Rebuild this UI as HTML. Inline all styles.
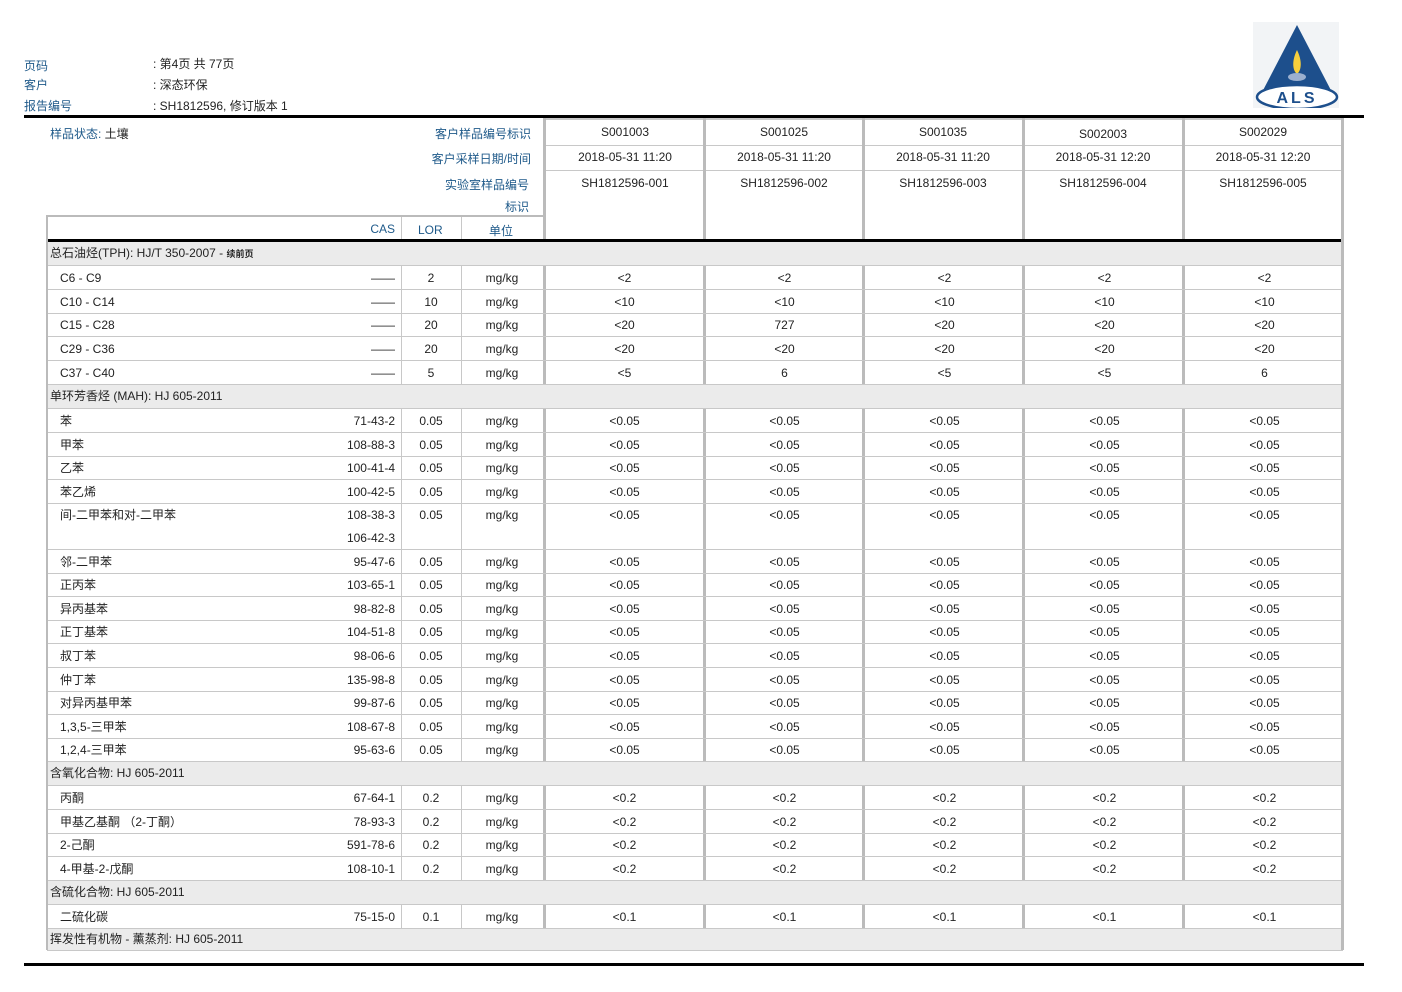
<!DOCTYPE html>
<html><head><meta charset="utf-8"><style>
body{margin:0;width:1402px;height:992px;background:#fff;position:relative;overflow:hidden;font-family:"Liberation Sans","Noto Sans CJK SC",sans-serif;color:#222;font-size:12px}
.a{position:absolute;white-space:nowrap}
.b{color:#1f5a8a}
.r{position:absolute;left:47px;width:1296px;display:flex;border-bottom:1px solid #c8c8c8;line-height:24px;z-index:2}
.r>div{flex:none}
.n{width:354px;position:relative;padding-left:13px;box-sizing:border-box}
.n span{position:absolute;right:6px;top:0}
.l{width:60px;text-align:center}
.u{width:82px;text-align:center}
.s{width:160px;text-align:center;padding-left:3px;box-sizing:border-box}
.h{position:absolute;left:47px;width:1296px;background:#ebebeb;border-bottom:1px solid #c8c8c8;line-height:23px;padding-left:3px;box-sizing:border-box;z-index:3}
.v{position:absolute;background:#c8c8c8;z-index:1}
.V{position:absolute;background:#bbb;width:3px;z-index:1}
</style></head><body>
<div class="a b" style="left:24px;top:57px">页码</div>
<div class="a b" style="left:24px;top:76px">客户</div>
<div class="a b" style="left:24px;top:97px">报告编号</div>
<div class="a" style="left:153px;top:55px">: 第4页 共 77页</div>
<div class="a" style="left:153px;top:76px">: 深态环保</div>
<div class="a" style="left:153px;top:97px">: SH1812596, 修订版本 1</div>
<svg class="a" style="left:1253px;top:22px" width="86" height="86" viewBox="0 0 86 86">
<rect width="86" height="86" fill="#f2f4f6"/>
<polygon points="44,3 6,76 82,76" fill="#1d4f8c"/>
<path d="M44,28 C39,38 39,48 44,52 C49,48 49,38 44,28Z" fill="#f7cf3c"/>
<ellipse cx="44" cy="55" rx="9" ry="4" fill="#9bb0cf"/>
<ellipse cx="44" cy="75" rx="40" ry="12" fill="#fff" stroke="#1d4f8c" stroke-width="2.5"/>
<rect x="0" y="64" width="86" height="5" fill="#1d4f8c" opacity="0"/>
<text x="44" y="81" font-size="16" font-weight="bold" fill="#1d4f8c" text-anchor="middle" font-family="Liberation Sans" letter-spacing="3">ALS</text>
</svg>
<div class="a" style="left:24px;top:115px;width:1340px;height:3px;background:#000"></div>
<div class="a" style="left:24px;top:963px;width:1340px;height:3px;background:#000"></div>

<div class="a b" style="left:50px;top:125px">样品状态: <span style="color:#222">土壤</span></div>
<div class="a b" style="right:871px;top:125px">客户样品编号标识</div>
<div class="a b" style="right:871px;top:150px">客户采样日期/时间</div>
<div class="a b" style="right:873px;top:176px">实验室样品编号</div>
<div class="a b" style="right:873px;top:198px">标识</div>
<div class="a b" style="right:1007px;top:222px">CAS</div>
<div class="a b" style="left:418px;top:223px">LOR</div>
<div class="a b" style="left:489px;top:222px">单位</div>

<div class="a" style="left:544px;top:118px;width:799px;height:2px;background:#c8c8c8"></div>
<div class="a" style="left:544px;top:145px;width:799px;height:1px;background:#c8c8c8"></div>
<div class="a" style="left:544px;top:170px;width:799px;height:1px;background:#c8c8c8"></div>
<div class="a" style="left:47px;top:215px;width:497px;height:2px;background:#bbb"></div>
<div class="a" style="left:47px;top:239px;width:1296px;height:3px;background:#000;z-index:4"></div>

<div class="V" style="left:46px;top:215px;height:735px;width:2px;z-index:4"></div>
<div class="v" style="left:401px;top:217px;width:1px;height:733px"></div>
<div class="v" style="left:461px;top:217px;width:1px;height:733px"></div>
<div class="V" style="left:543px;top:118px;height:832px"></div>
<div class="V" style="left:703px;top:118px;height:832px"></div>
<div class="V" style="left:862px;top:118px;height:832px"></div>
<div class="V" style="left:1022px;top:118px;height:832px"></div>
<div class="V" style="left:1182px;top:118px;height:832px"></div>
<div class="V" style="left:1341px;top:118px;height:832px;z-index:4"></div>

<div class="a" style="left:547px;top:125px;width:156px;text-align:center">S001003</div>
<div class="a" style="left:706px;top:125px;width:156px;text-align:center">S001025</div>
<div class="a" style="left:865px;top:125px;width:156px;text-align:center">S001035</div>
<div class="a" style="left:1025px;top:127px;width:156px;text-align:center">S002003</div>
<div class="a" style="left:1185px;top:125px;width:156px;text-align:center">S002029</div>
<div class="a" style="left:547px;top:150px;width:156px;text-align:center">2018-05-31 11:20</div>
<div class="a" style="left:706px;top:150px;width:156px;text-align:center">2018-05-31 11:20</div>
<div class="a" style="left:865px;top:150px;width:156px;text-align:center">2018-05-31 11:20</div>
<div class="a" style="left:1025px;top:150px;width:156px;text-align:center">2018-05-31 12:20</div>
<div class="a" style="left:1185px;top:150px;width:156px;text-align:center">2018-05-31 12:20</div>
<div class="a" style="left:547px;top:176px;width:156px;text-align:center">SH1812596-001</div>
<div class="a" style="left:706px;top:176px;width:156px;text-align:center">SH1812596-002</div>
<div class="a" style="left:865px;top:176px;width:156px;text-align:center">SH1812596-003</div>
<div class="a" style="left:1025px;top:176px;width:156px;text-align:center">SH1812596-004</div>
<div class="a" style="left:1185px;top:176px;width:156px;text-align:center">SH1812596-005</div>

<div class="h" style="top:242px;height:24px">总石油烃(TPH): HJ/T 350-2007 - <span style="font-size:9px;font-weight:bold">续前页</span></div>
<div class="r" style="top:266px;height:23px"><div class="n">C6 - C9<span>——</span></div><div class="l">2</div><div class="u">mg/kg</div><div class="s">&lt;2</div><div class="s">&lt;2</div><div class="s">&lt;2</div><div class="s">&lt;2</div><div class="s">&lt;2</div></div>
<div class="r" style="top:290px;height:23px"><div class="n">C10 - C14<span>——</span></div><div class="l">10</div><div class="u">mg/kg</div><div class="s">&lt;10</div><div class="s">&lt;10</div><div class="s">&lt;10</div><div class="s">&lt;10</div><div class="s">&lt;10</div></div>
<div class="r" style="top:313px;height:23px"><div class="n">C15 - C28<span>——</span></div><div class="l">20</div><div class="u">mg/kg</div><div class="s">&lt;20</div><div class="s">727</div><div class="s">&lt;20</div><div class="s">&lt;20</div><div class="s">&lt;20</div></div>
<div class="r" style="top:337px;height:23px"><div class="n">C29 - C36<span>——</span></div><div class="l">20</div><div class="u">mg/kg</div><div class="s">&lt;20</div><div class="s">&lt;20</div><div class="s">&lt;20</div><div class="s">&lt;20</div><div class="s">&lt;20</div></div>
<div class="r" style="top:361px;height:23px"><div class="n">C37 - C40<span>——</span></div><div class="l">5</div><div class="u">mg/kg</div><div class="s">&lt;5</div><div class="s">6</div><div class="s">&lt;5</div><div class="s">&lt;5</div><div class="s">6</div></div>
<div class="h" style="top:385px;height:24px">单环芳香烃 (MAH): HJ 605-2011</div>
<div class="r" style="top:409px;height:23px"><div class="n">苯<span>71-43-2</span></div><div class="l">0.05</div><div class="u">mg/kg</div><div class="s">&lt;0.05</div><div class="s">&lt;0.05</div><div class="s">&lt;0.05</div><div class="s">&lt;0.05</div><div class="s">&lt;0.05</div></div>
<div class="r" style="top:433px;height:23px"><div class="n">甲苯<span>108-88-3</span></div><div class="l">0.05</div><div class="u">mg/kg</div><div class="s">&lt;0.05</div><div class="s">&lt;0.05</div><div class="s">&lt;0.05</div><div class="s">&lt;0.05</div><div class="s">&lt;0.05</div></div>
<div class="r" style="top:456px;height:23px"><div class="n">乙苯<span>100-41-4</span></div><div class="l">0.05</div><div class="u">mg/kg</div><div class="s">&lt;0.05</div><div class="s">&lt;0.05</div><div class="s">&lt;0.05</div><div class="s">&lt;0.05</div><div class="s">&lt;0.05</div></div>
<div class="r" style="top:480px;height:23px"><div class="n">苯乙烯<span>100-42-5</span></div><div class="l">0.05</div><div class="u">mg/kg</div><div class="s">&lt;0.05</div><div class="s">&lt;0.05</div><div class="s">&lt;0.05</div><div class="s">&lt;0.05</div><div class="s">&lt;0.05</div></div>
<div class="r" style="top:504px;height:45px;line-height:23px"><div class="n">间-二甲苯和对-二甲苯<span>108-38-3<br>106-42-3</span></div><div class="l">0.05</div><div class="u">mg/kg</div><div class="s">&lt;0.05</div><div class="s">&lt;0.05</div><div class="s">&lt;0.05</div><div class="s">&lt;0.05</div><div class="s">&lt;0.05</div></div>
<div class="r" style="top:550px;height:23px"><div class="n">邻-二甲苯<span>95-47-6</span></div><div class="l">0.05</div><div class="u">mg/kg</div><div class="s">&lt;0.05</div><div class="s">&lt;0.05</div><div class="s">&lt;0.05</div><div class="s">&lt;0.05</div><div class="s">&lt;0.05</div></div>
<div class="r" style="top:573px;height:23px"><div class="n">正丙苯<span>103-65-1</span></div><div class="l">0.05</div><div class="u">mg/kg</div><div class="s">&lt;0.05</div><div class="s">&lt;0.05</div><div class="s">&lt;0.05</div><div class="s">&lt;0.05</div><div class="s">&lt;0.05</div></div>
<div class="r" style="top:597px;height:23px"><div class="n">异丙基苯<span>98-82-8</span></div><div class="l">0.05</div><div class="u">mg/kg</div><div class="s">&lt;0.05</div><div class="s">&lt;0.05</div><div class="s">&lt;0.05</div><div class="s">&lt;0.05</div><div class="s">&lt;0.05</div></div>
<div class="r" style="top:620px;height:23px"><div class="n">正丁基苯<span>104-51-8</span></div><div class="l">0.05</div><div class="u">mg/kg</div><div class="s">&lt;0.05</div><div class="s">&lt;0.05</div><div class="s">&lt;0.05</div><div class="s">&lt;0.05</div><div class="s">&lt;0.05</div></div>
<div class="r" style="top:644px;height:23px"><div class="n">叔丁苯<span>98-06-6</span></div><div class="l">0.05</div><div class="u">mg/kg</div><div class="s">&lt;0.05</div><div class="s">&lt;0.05</div><div class="s">&lt;0.05</div><div class="s">&lt;0.05</div><div class="s">&lt;0.05</div></div>
<div class="r" style="top:668px;height:23px"><div class="n">仲丁苯<span>135-98-8</span></div><div class="l">0.05</div><div class="u">mg/kg</div><div class="s">&lt;0.05</div><div class="s">&lt;0.05</div><div class="s">&lt;0.05</div><div class="s">&lt;0.05</div><div class="s">&lt;0.05</div></div>
<div class="r" style="top:691px;height:23px"><div class="n">对异丙基甲苯<span>99-87-6</span></div><div class="l">0.05</div><div class="u">mg/kg</div><div class="s">&lt;0.05</div><div class="s">&lt;0.05</div><div class="s">&lt;0.05</div><div class="s">&lt;0.05</div><div class="s">&lt;0.05</div></div>
<div class="r" style="top:715px;height:23px"><div class="n">1,3,5-三甲苯<span>108-67-8</span></div><div class="l">0.05</div><div class="u">mg/kg</div><div class="s">&lt;0.05</div><div class="s">&lt;0.05</div><div class="s">&lt;0.05</div><div class="s">&lt;0.05</div><div class="s">&lt;0.05</div></div>
<div class="r" style="top:738px;height:23px"><div class="n">1,2,4-三甲苯<span>95-63-6</span></div><div class="l">0.05</div><div class="u">mg/kg</div><div class="s">&lt;0.05</div><div class="s">&lt;0.05</div><div class="s">&lt;0.05</div><div class="s">&lt;0.05</div><div class="s">&lt;0.05</div></div>
<div class="h" style="top:762px;height:24px">含氧化合物: HJ 605-2011</div>
<div class="r" style="top:786px;height:23px"><div class="n">丙酮<span>67-64-1</span></div><div class="l">0.2</div><div class="u">mg/kg</div><div class="s">&lt;0.2</div><div class="s">&lt;0.2</div><div class="s">&lt;0.2</div><div class="s">&lt;0.2</div><div class="s">&lt;0.2</div></div>
<div class="r" style="top:810px;height:23px"><div class="n">甲基乙基酮 （2-丁酮）<span>78-93-3</span></div><div class="l">0.2</div><div class="u">mg/kg</div><div class="s">&lt;0.2</div><div class="s">&lt;0.2</div><div class="s">&lt;0.2</div><div class="s">&lt;0.2</div><div class="s">&lt;0.2</div></div>
<div class="r" style="top:833px;height:23px"><div class="n">2-己酮<span>591-78-6</span></div><div class="l">0.2</div><div class="u">mg/kg</div><div class="s">&lt;0.2</div><div class="s">&lt;0.2</div><div class="s">&lt;0.2</div><div class="s">&lt;0.2</div><div class="s">&lt;0.2</div></div>
<div class="r" style="top:857px;height:23px"><div class="n">4-甲基-2-戊酮<span>108-10-1</span></div><div class="l">0.2</div><div class="u">mg/kg</div><div class="s">&lt;0.2</div><div class="s">&lt;0.2</div><div class="s">&lt;0.2</div><div class="s">&lt;0.2</div><div class="s">&lt;0.2</div></div>
<div class="h" style="top:881px;height:24px">含硫化合物: HJ 605-2011</div>
<div class="r" style="top:905px;height:23px"><div class="n">二硫化碳<span>75-15-0</span></div><div class="l">0.1</div><div class="u">mg/kg</div><div class="s">&lt;0.1</div><div class="s">&lt;0.1</div><div class="s">&lt;0.1</div><div class="s">&lt;0.1</div><div class="s">&lt;0.1</div></div>
<div class="h" style="top:929px;height:22px;line-height:21px">挥发性有机物 - 薰蒸剂: HJ 605-2011</div>
</body></html>
